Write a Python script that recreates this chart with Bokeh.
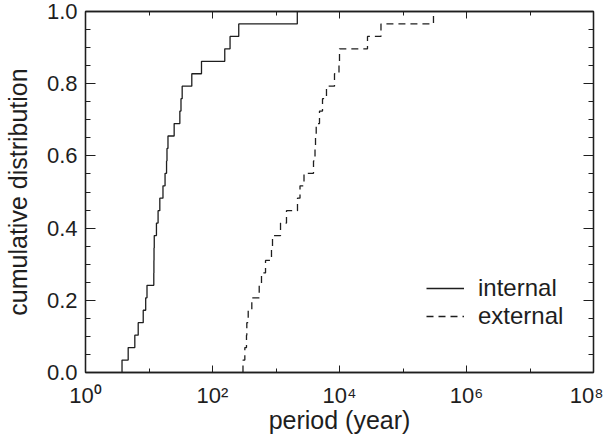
import numpy as np
from bokeh.plotting import figure
from bokeh.models import (LogAxis, LinearAxis, FixedTicker, Legend, LegendItem,
                          PrintfTickFormatter)
from bokeh.embed import file_html
from bokeh.resources import INLINE

# ---- data (periods in years) ----
internal_period = [3.76, 4.70, 5.98, 6.76, 8.11, 8.87, 9.30, 11.9, 11.95, 12.0,
                   12.1, 13.1, 13.9, 14.8, 16.6, 17.9, 18.9, 19.2, 19.9, 24.9,
                   30.6, 31.9, 33.3, 47.2, 67.1, 156, 189, 259, 2165]
external_period = [302, 323, 343, 347, 365, 416, 544, 591, 684, 849, 881, 1178,
                   1463, 2180, 2388, 2761, 3896, 4115, 4190, 4298, 4842, 5400,
                   6237, 8340, 9820, 10000, 27600, 45000, 302000]

series_names = ["internal", "external"]
x_major = [1, 1e2, 1e4, 1e6, 1e8]
x_minor = [10, 1e3, 1e5, 1e7]
x_labels = ["10\u2070", "10\u00b2", "10\u2074", "10\u2076", "10\u2078"]
y_major = [0.0, 0.2, 0.4, 0.6, 0.8, 1.0]
y_minor = [0.05, 0.1, 0.15, 0.25, 0.3, 0.35, 0.45, 0.5, 0.55, 0.65, 0.7, 0.75,
           0.85, 0.9, 0.95]


def ecdf(vals):
    xs = np.sort(np.asarray(vals, dtype=float))
    n = len(xs)
    ys = np.arange(1, n + 1) / n
    return np.concatenate([[xs[0]], xs]), np.concatenate([[0.0], ys])


FONT = "Liberation Sans"
INK = "#1e1e1e"

p = figure(frame_width=508, frame_height=361, x_axis_type="log",
           x_range=(1, 1e8), y_range=(0, 1), output_backend="svg",
           toolbar_location=None, min_border_left=82, min_border_right=10,
           min_border_top=11, min_border_bottom=50)
p.background_fill_color = "white"
p.border_fill_color = "white"
p.xgrid.visible = False
p.ygrid.visible = False
p.outline_line_color = INK
p.outline_line_width = 1.3

xi, yi = ecdf(internal_period)
xe, ye = ecdf(external_period)
r1 = p.step(xi, yi, mode="after", line_color=INK, line_width=1.3)
r2 = p.step(xe, ye, mode="after", line_color=INK, line_width=1.3,
            line_dash="7 5")

xt = FixedTicker(ticks=x_major, minor_ticks=x_minor)
yt = FixedTicker(ticks=y_major, minor_ticks=y_minor)


def style(ax, labels=True):
    ax.axis_line_color = INK
    ax.axis_line_width = 1.3
    ax.major_tick_line_color = INK
    ax.minor_tick_line_color = INK
    ax.major_tick_out = 0
    ax.minor_tick_out = 0
    ax.major_label_text_font = FONT
    ax.major_label_text_color = INK
    ax.axis_label_text_font = FONT
    ax.axis_label_text_color = INK
    ax.axis_label_text_font_style = "normal"
    if not labels:
        ax.major_label_text_font_size = "1px"
        ax.major_label_text_alpha = 0
        ax.major_label_standoff = 0


xa = p.xaxis[0]
xa.ticker = xt
xa.major_label_overrides = {t: s for t, s in zip(x_major, x_labels)}
xa.axis_label = "period (year)"
style(xa)
xa.major_tick_in = 7
xa.minor_tick_in = 4
xa.major_label_text_font_size = "22px"
xa.axis_label_text_font_size = "25px"
xa.major_label_standoff = 10
xa.axis_label_standoff = -5

ya = p.yaxis[0]
ya.ticker = yt
ya.formatter = PrintfTickFormatter(format="%.1f")
ya.axis_label = "cumulative distribution"
style(ya)
ya.major_tick_in = 10
ya.minor_tick_in = 5
ya.major_label_text_font_size = "22px"
ya.axis_label_text_font_size = "25px"
ya.major_label_standoff = 8
ya.axis_label_standoff = 12

top = LogAxis(ticker=FixedTicker(ticks=x_major, minor_ticks=x_minor))
style(top, labels=False)
top.major_tick_in = 7
top.minor_tick_in = 4
p.add_layout(top, "above")

right = LinearAxis(ticker=FixedTicker(ticks=y_major, minor_ticks=y_minor))
style(right, labels=False)
right.major_tick_in = 10
right.minor_tick_in = 5
p.add_layout(right, "right")

legend = Legend(items=[LegendItem(label=series_names[0], renderers=[r1]),
                       LegendItem(label=series_names[1], renderers=[r2])],
                location=(341, 42))
legend.border_line_color = None
legend.background_fill_alpha = 0
legend.padding = 0
legend.margin = 0
legend.spacing = 0
legend.glyph_width = 38
legend.glyph_height = 28
legend.label_height = 28
legend.label_standoff = 14
legend.label_text_font = FONT
legend.label_text_font_size = "24px"
legend.label_text_color = INK
p.add_layout(legend, "center")

open("out.html", "w").write(file_html(p, INLINE))
